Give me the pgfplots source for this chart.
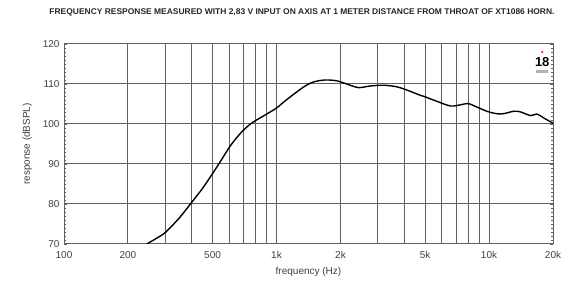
\documentclass[border=0pt]{standalone}
\usepackage{pgfplots}
\pgfplotsset{compat=1.18}
\usepackage{fontspec}
\setmainfont{Liberation Sans}
\definecolor{gridc}{gray}{0.38}
\definecolor{txt}{gray}{0.25}
\begin{document}
\begin{tikzpicture}[x=1pt,y=1pt]
\path[use as bounding box] (0,0) rectangle (563,281);
\node[inner sep=0pt, text=black!85] at (302,269) {\resizebox{505pt}{5.8pt}{\bfseries FREQUENCY RESPONSE MEASURED WITH 2,83 V INPUT ON AXIS AT 1 METER DISTANCE FROM THROAT OF XT1086 HORN.}};
\begin{axis}[
  at={(64pt,37pt)}, anchor=south west,
  scale only axis, width=489pt, height=200pt,
  xmode=log, log basis x=10,
  xmin=100, xmax=20000, ymin=70, ymax=120,
  xtick={100,200,500,1000,2000,5000,10000,20000},
  xticklabels={100,200,500,1k,2k,5k,10k,20k},
  minor xtick={300,400,600,700,800,900,3000,4000,6000,7000,8000,9000},
  ytick={70,80,90,100,110,120},
  minor y tick num=9,
  xmajorgrids, xminorgrids, ymajorgrids,
  grid style={gridc, line width=1pt},
  minor grid style={gridc, line width=1pt},
  xtick style={draw=none},
  ytick style={gridc, line width=0.5pt},
  ytick pos=both,
  tick align=inside,
  major tick length=3pt, minor tick length=2pt,
  axis line style={gridc, line width=1pt},
  tick label style={font=\fontsize{10}{11}\selectfont, text=txt},
  /pgf/number format/assume math mode=true,
  xticklabel style={yshift=-4pt},
  yticklabel style={xshift=-1pt},
  xlabel={frequency (Hz)},
  ylabel={response (dBSPL)},
  label style={font=\fontsize{10}{11}\selectfont, text=txt},
  xlabel style={yshift=-2pt},
  ylabel style={yshift=4pt},
]
\addplot[black, line width=1.4pt, smooth, tension=0.5] coordinates {
(245,70) (270,71.3) (300,72.9) (350,76.6) (400,80.5) (450,84) (500,87.6)
(550,91.0) (600,94.2) (650,96.6) (700,98.5) (750,99.9) (800,100.9) (900,102.5) (1000,104)
(1117,106.1) (1337,109.2) (1490,110.5) (1690,111.0) (1920,110.8) (2140,110.0)
(2430,109.1) (2755,109.5) (3183,109.7) (3680,109.3) (4100,108.5) (4735,107.2)
(5000,106.8) (5600,105.8) (6600,104.5) (7500,104.9) (8000,105.1) (8800,104.2)
(10000,103.0) (11400,102.5) (13100,103.2) (14100,103.0) (15700,102.1)
(16800,102.5) (18100,101.5) (20000,100.2)
};
\fill[red!80] (rel axis cs:0.978,0.96) circle (1.3pt);
\node[inner sep=0pt, font=\bfseries\fontsize{13}{13}\selectfont] at (rel axis cs:0.978,0.91) {18};
\fill[gray!60] (rel axis cs:0.966,0.855) rectangle (rel axis cs:0.990,0.872);
\end{axis}
\end{tikzpicture}
\end{document}
